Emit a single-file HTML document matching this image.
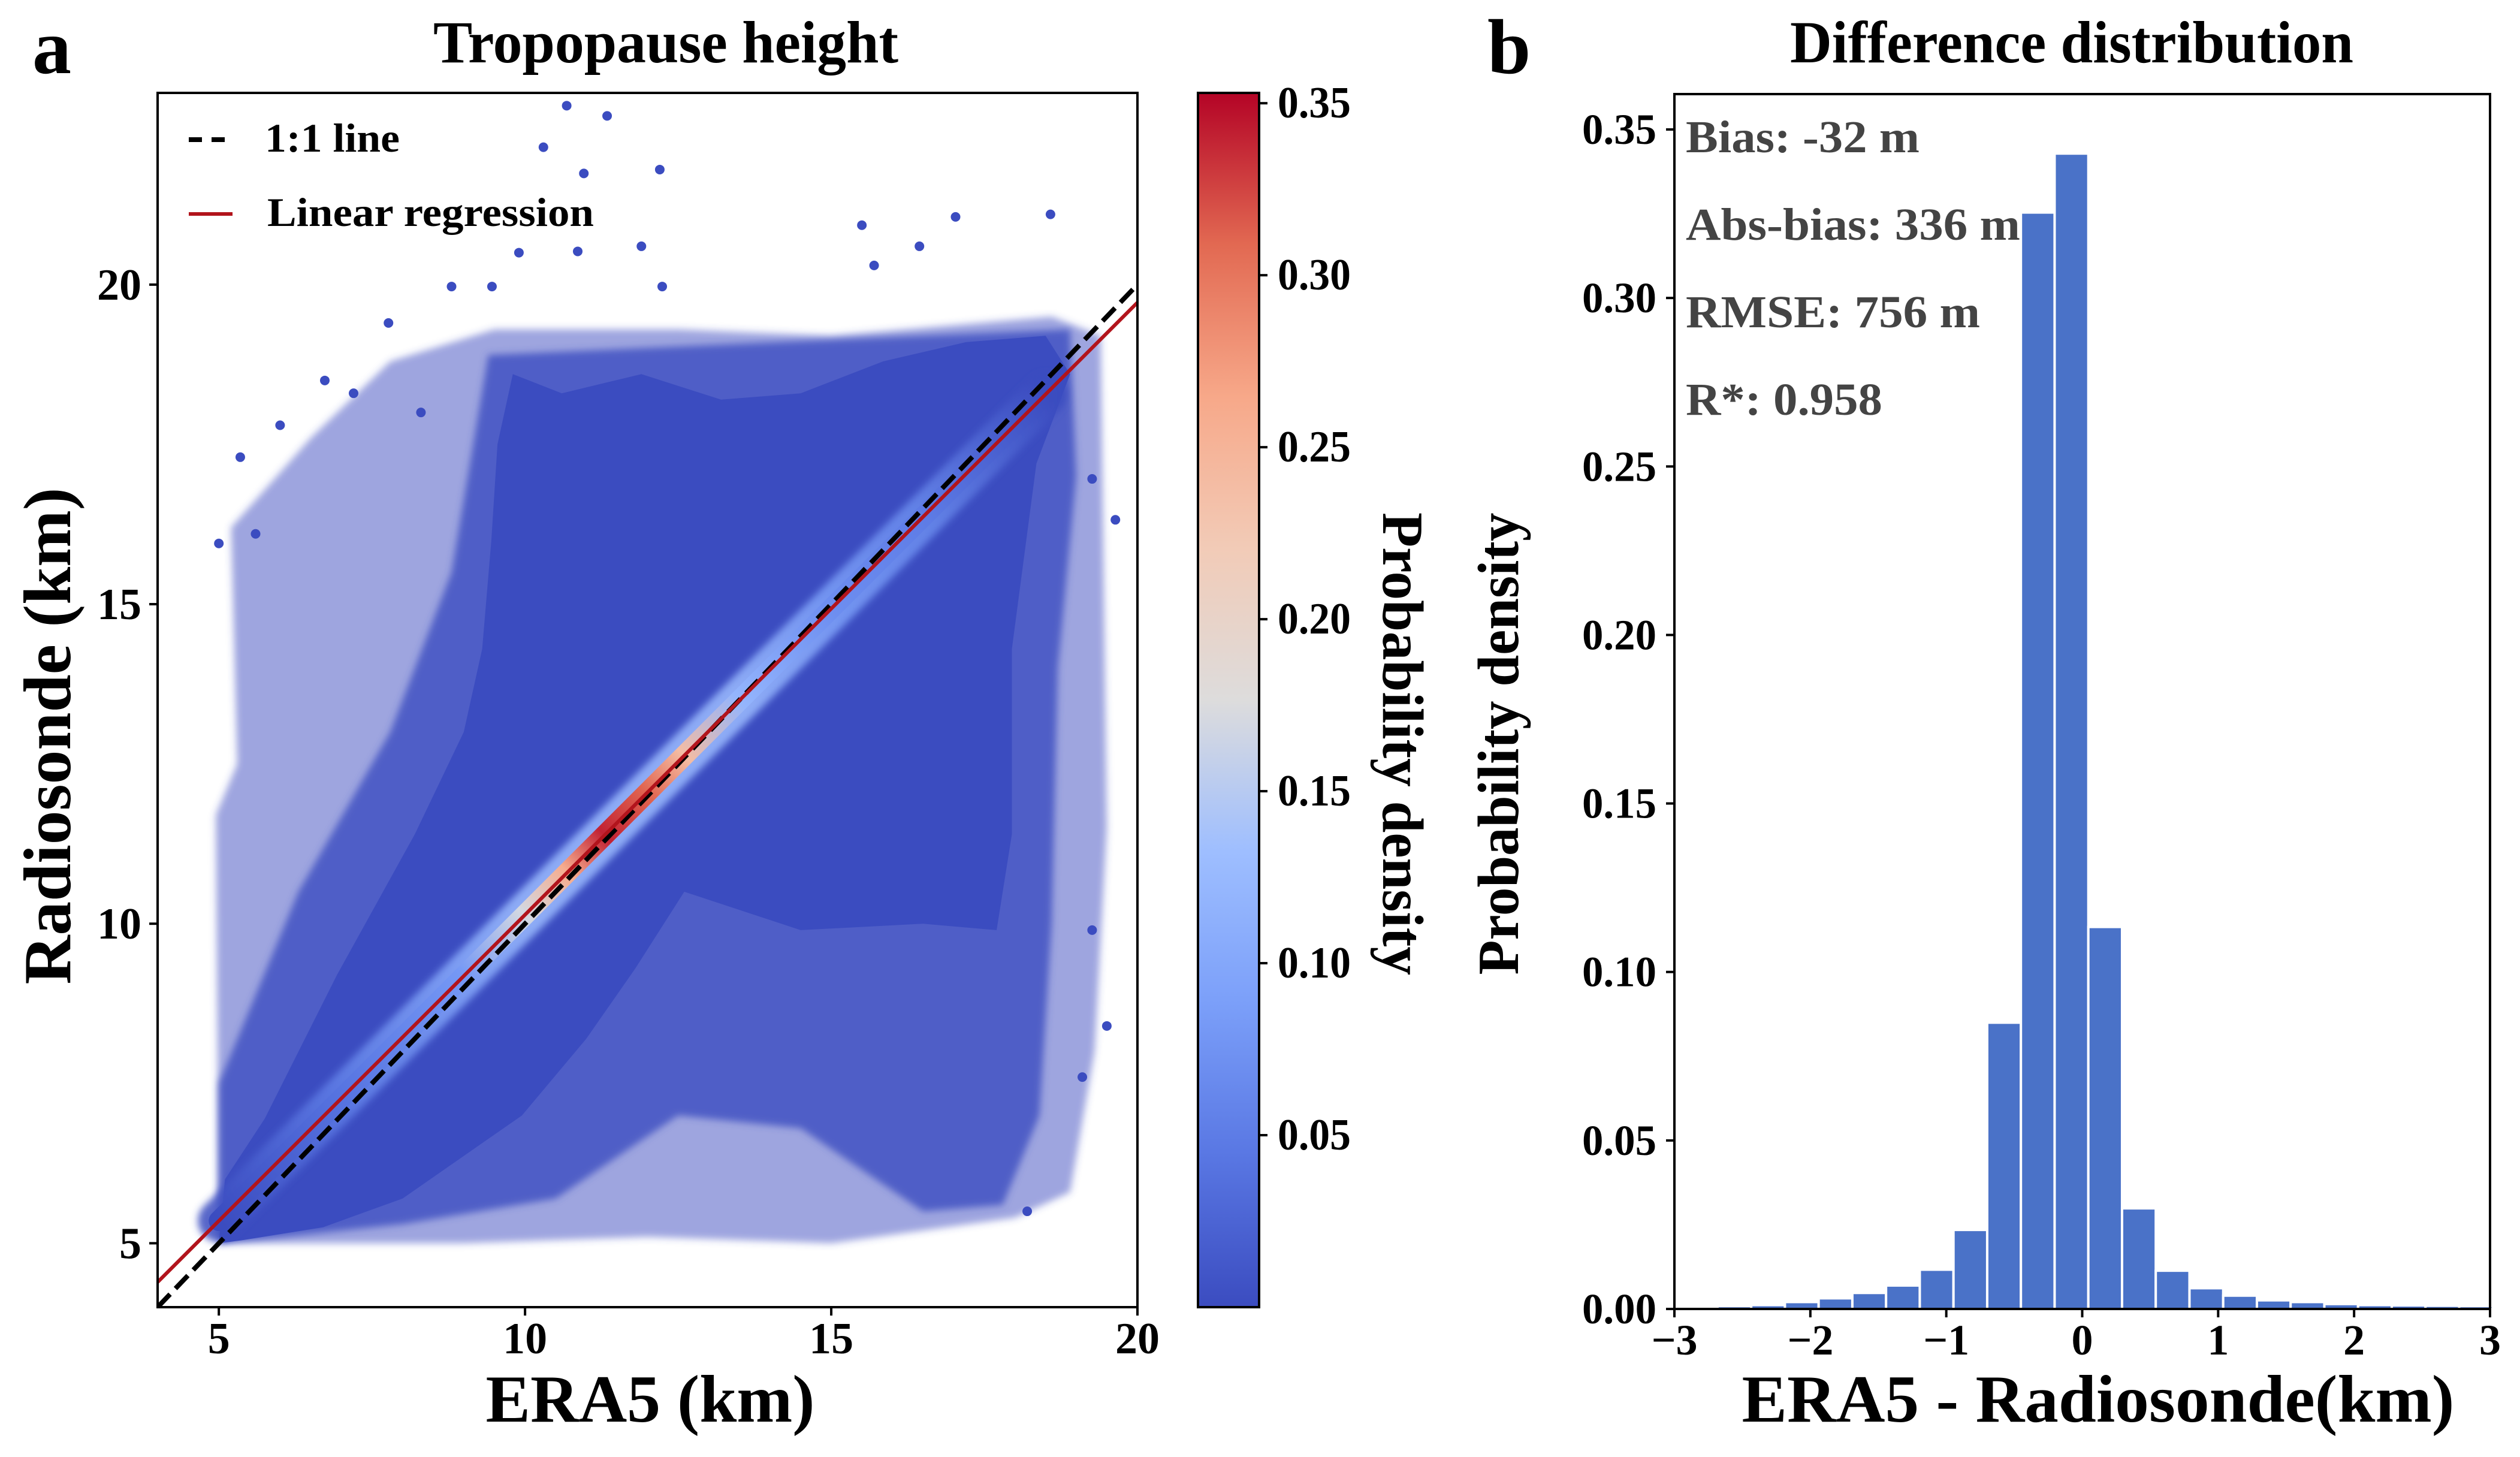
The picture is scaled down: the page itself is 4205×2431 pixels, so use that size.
<!DOCTYPE html>
<html><head><meta charset="utf-8"><style>
html,body{margin:0;padding:0;background:#fff}
svg{display:block}
text{font-family:"Liberation Serif","DejaVu Serif",serif;font-weight:bold}
</style></head><body>
<svg id="fig" xmlns="http://www.w3.org/2000/svg" width="4205" height="2431" viewBox="0 0 4205 2431">
<defs>
<linearGradient id="cmap" x1="0" y1="1" x2="0" y2="0">
<stop offset="0" stop-color="#3b4cc0"/><stop offset="0.125" stop-color="#5977e3"/><stop offset="0.25" stop-color="#7b9ff9"/><stop offset="0.375" stop-color="#9ebeff"/><stop offset="0.5" stop-color="#dddcdc"/><stop offset="0.625" stop-color="#f2cbb7"/><stop offset="0.75" stop-color="#f7a889"/><stop offset="0.875" stop-color="#e26952"/><stop offset="1" stop-color="#b40426"/>
</linearGradient>
<clipPath id="clipA"><rect x="263" y="155" width="1635" height="2026"/></clipPath>
<filter id="soft" x="-10%" y="-10%" width="120%" height="120%"><feGaussianBlur stdDeviation="6"/></filter>
</defs>
<g id="panelA"></g>
<g id="panelB"></g>
</svg>
<script>
// ---------- Panel a data ----------
const xTicksA = [5, 10, 15, 20];
const yTicksA = [5, 10, 15, 20];
const cbTicks = [0.05, 0.10, 0.15, 0.20, 0.25, 0.30, 0.35];
const cbTickLabels = ["0.05", "0.10", "0.15", "0.20", "0.25", "0.30", "0.35"];
const regSlope = 0.958;
const regIntercept = 0.56;
const outlierX = [10.68, 11.34, 10.3, 10.96, 12.2, 15.5, 17.03, 18.58, 16.44, 11.9, 9.9, 10.86, 8.8, 9.46, 12.24, 15.7, 7.77, 19.26, 19.64, 6.73, 5.35, 5.0, 19.26, 6.0, 7.2, 8.3, 19.5, 19.1, 5.6, 18.2];
const outlierY = [22.8, 22.64, 22.15, 21.74, 21.8, 20.93, 21.06, 21.1, 20.6, 20.6, 20.5, 20.52, 19.97, 19.97, 19.97, 20.3, 19.4, 16.96, 16.32, 18.5, 17.3, 15.95, 9.9, 17.8, 18.3, 18.0, 8.4, 7.6, 16.1, 5.5];
const outerX = [5, 4.95, 5.3, 5.2, 6.5, 7.8, 9.5, 12.5, 15, 18.6, 19.4, 19.5, 19.3, 18.9, 18, 15, 12, 9, 6];
const outerY = [5, 11.7, 12.5, 16.2, 17.6, 18.8, 19.3, 19.3, 19.2, 19.5, 19.2, 11.5, 8, 5.8, 5.4, 5.0, 5.1, 5.0, 5.0];
const midX = [5, 5, 6.3, 7.8, 8.8, 9.4, 18.9, 19.0, 18.7, 18.6, 18.4, 17.8, 16.5, 14.5, 12.5, 10.5, 8, 6];
const midY = [5, 7.5, 10.5, 13, 15.5, 18.9, 19.3, 17, 14, 10, 7, 5.6, 5.5, 6.8, 7.0, 5.7, 5.3, 5.1];
const denseX = [5, 5.1, 5.75, 6.93, 8.2, 9.0, 9.3, 9.45, 9.55, 9.8, 10.6, 11.9, 13.2, 14.5, 15.85, 17.2, 18.5, 18.9, 18.35, 17.95, 17.95, 17.7, 16.5, 14.5, 12.6, 11.8, 11.0, 9.95, 8.0, 6.7, 5.4];
const denseY = [5, 6, 6.95, 9.2, 11.4, 13.0, 14.3, 16, 17.5, 18.6, 18.3, 18.6, 18.2, 18.3, 18.8, 19.1, 19.2, 18.6, 17.2, 14.3, 11.4, 9.9, 10.0, 9.9, 10.5, 9.3, 8.2, 7.0, 5.7, 5.25, 5.05];
// density along the ridge (for colouring the band)
const ridgeX = [5, 7, 9, 10, 10.7, 11.3, 12.0, 12.6, 13.5, 15, 16.5, 18.5];
const ridgeD = [0.0, 0.04, 0.08, 0.17, 0.26, 0.34, 0.31, 0.24, 0.12, 0.07, 0.05, 0.0];

// ---------- Panel b data ----------
const binStart = -2.683;
const binWidth = 0.248;
const histValues = [0.0005, 0.0008, 0.0017, 0.0028, 0.0044, 0.0066, 0.0113, 0.0231, 0.0846, 0.325, 0.3425, 0.113, 0.0295, 0.011, 0.0058, 0.0036, 0.0022, 0.0017, 0.0011, 0.0008, 0.0007, 0.0006, 0.0005];
const xTicksB = [-3, -2, -1, 0, 1, 2, 3];
const xTickLabelsB = ["\u22123", "\u22122", "\u22121", "0", "1", "2", "3"];
const yTicksB = [0, 0.05, 0.10, 0.15, 0.20, 0.25, 0.30, 0.35];
const yTickLabelsB = ["0.00", "0.05", "0.10", "0.15", "0.20", "0.25", "0.30", "0.35"];
const statLines = ["Bias: -32 m", "Abs-bias: 336 m", "RMSE: 756 m", "R*: 0.958"];

const NS = "http://www.w3.org/2000/svg";
function mk(tag, attrs, parent) {
  const e = document.createElementNS(NS, tag);
  for (const k in attrs) e.setAttribute(k, attrs[k]);
  parent.appendChild(e);
  return e;
}
function txt(str, attrs, parent) { const t = mk("text", attrs, parent); t.textContent = str; return t; }

const A = {x0: 263, x1: 1898, y0: 2181, y1: 155, xmin: 4, xmax: 20, ymin: 4, ymax: 23};
const sxA = v => A.x0 + (v - A.xmin) / (A.xmax - A.xmin) * (A.x1 - A.x0);
const syA = v => A.y0 - (v - A.ymin) / (A.ymax - A.ymin) * (A.y0 - A.y1);
const CB = {x0: 1999, x1: 2101, y0: 2181, y1: 155, vmin: 0, vmax: 0.353};
const syCB = v => CB.y0 - (v - CB.vmin) / (CB.vmax - CB.vmin) * (CB.y0 - CB.y1);
const B = {x0: 2794, x1: 4155, y0: 2184, y1: 157, xmin: -3, xmax: 3, ymin: 0, ymax: 0.3605};
const sxB = v => B.x0 + (v - B.xmin) / (B.xmax - B.xmin) * (B.x1 - B.x0);
const syB = v => B.y0 - (v - B.ymin) / (B.ymax - B.ymin) * (B.y0 - B.y1);

const stops = [[0,[59,76,192]],[0.125,[89,119,227]],[0.25,[123,159,249]],[0.375,[158,190,255]],[0.5,[221,220,220]],[0.625,[242,203,183]],[0.75,[247,168,137]],[0.875,[226,105,82]],[1,[180,4,38]]];
function cmap(v) {
  let t = Math.max(0, Math.min(1, (v - CB.vmin) / (CB.vmax - CB.vmin)));
  for (let i = 1; i < stops.length; i++) {
    if (t <= stops[i][0]) {
      const a = stops[i-1], b = stops[i], f = (t - a[0]) / (b[0] - a[0]);
      const c = a[1].map((c0, j) => Math.round(c0 + (b[1][j] - c0) * f));
      return "rgb(" + c.join(",") + ")";
    }
  }
  return "rgb(180,4,38)";
}

const pa = document.getElementById("panelA");
const pb = document.getElementById("panelB");

// ---- Panel a ----
const plotA = mk("g", {"clip-path": "url(#clipA)"}, pa);


function poly(xs, ys, fill, op, name, blur) {
  const pts = xs.map((x, i) => sxA(x).toFixed(1) + "," + syA(ys[i]).toFixed(1)).join(" ");
  const at = {points: pts, fill: fill, "fill-opacity": op, stroke: "none"};
  if (blur) at.filter = "url(#soft)";
  const p = mk("polygon", at, plotA);
  
  
}
poly(outerX, outerY, "#3b4cc0", 0.5, "sparse-scatter-region", true);
poly(midX, midY, "#3b4cc0", 0.8, "medium-scatter-region", true);
poly(denseX, denseY, "#3b4cc0", 1, "dense-scatter-region", false);
const defs = document.querySelector("defs");
const gx1 = sxA(ridgeX[0]), gx2 = sxA(ridgeX[ridgeX.length - 1]);
const rg = mk("linearGradient", {id: "ridge", gradientUnits: "userSpaceOnUse", x1: gx1, y1: syA(regSlope*ridgeX[0]+regIntercept), x2: gx2, y2: syA(regSlope*ridgeX[ridgeX.length-1]+regIntercept)}, defs);
const rgHalo = mk("linearGradient", {id: "ridgeHalo", gradientUnits: "userSpaceOnUse", x1: gx1, y1: syA(regSlope*ridgeX[0]+regIntercept), x2: gx2, y2: syA(regSlope*ridgeX[ridgeX.length-1]+regIntercept)}, defs);
ridgeX.forEach((x, i) => {
  const off = (x - ridgeX[0]) / (ridgeX[ridgeX.length-1] - ridgeX[0]);
  mk("stop", {offset: off, "stop-color": cmap(ridgeD[i])}, rg);
  mk("stop", {offset: off, "stop-color": cmap(Math.min(ridgeD[i] * 1.3, 0.13))}, rgHalo);
});
const rx1 = ridgeX[0], rx2 = ridgeX[ridgeX.length - 1];
const halo = mk("line", {x1: sxA(rx1), y1: syA(regSlope*rx1+regIntercept), x2: sxA(rx2), y2: syA(regSlope*rx2+regIntercept), stroke: "url(#ridgeHalo)", "stroke-width": 70, "stroke-linecap": "round", "stroke-opacity": 0.85, filter: "url(#soft)"}, plotA);


const core = mk("line", {x1: sxA(rx1), y1: syA(regSlope*rx1+regIntercept), x2: sxA(rx2), y2: syA(regSlope*rx2+regIntercept), stroke: "url(#ridge)", "stroke-width": 34, "stroke-linecap": "round"}, plotA);


outlierX.forEach((x, i) => {
  const c = mk("circle", {cx: sxA(x), cy: syA(outlierY[i]), r: 8, fill: "#3b4cc0"}, plotA);
  
  
});
const one = mk("line", {x1: sxA(A.xmin), y1: syA(A.xmin), x2: sxA(A.xmax), y2: syA(A.xmax), stroke: "#000", "stroke-width": 8, "stroke-dasharray": "30 13"}, plotA);


const reg = mk("line", {x1: sxA(A.xmin), y1: syA(regSlope*A.xmin+regIntercept), x2: sxA(A.xmax), y2: syA(regSlope*A.xmax+regIntercept), stroke: "#b2141c", "stroke-width": 6}, plotA);


const fa = mk("rect", {x: A.x0, y: A.y1, width: A.x1 - A.x0, height: A.y0 - A.y1, fill: "none", stroke: "#000", "stroke-width": 4}, pa);


xTicksA.forEach(v => {
  const x = sxA(v);
  const t = mk("line", {x1: x, y1: A.y0, x2: x, y2: A.y0 + 14, stroke: "#000", "stroke-width": 4}, pa);
  
  
  const l = txt(String(v), {x: x, y: 2258, "font-size": 74, "text-anchor": "middle"}, pa);
  
  
});
yTicksA.forEach(v => {
  const y = syA(v);
  const t = mk("line", {x1: A.x0 - 14, y1: y, x2: A.x0, y2: y, stroke: "#000", "stroke-width": 4}, pa);
  
  
  const l = txt(String(v), {x: 236, y: y + 25, "font-size": 74, "text-anchor": "end"}, pa);
  
  
});
const cb = mk("rect", {x: CB.x0, y: CB.y1, width: CB.x1 - CB.x0, height: CB.y0 - CB.y1, fill: "url(#cmap)", stroke: "#000", "stroke-width": 4}, pa);


cbTicks.forEach((v, i) => {
  const y = syCB(v);
  const t = mk("line", {x1: CB.x1, y1: y, x2: CB.x1 + 14, y2: y, stroke: "#000", "stroke-width": 4}, pa);
  
  
  const l = txt(cbTickLabels[i], {x: 2132, y: y + 24, "font-size": 74, textLength: 122, lengthAdjust: "spacingAndGlyphs"}, pa);
  
  
});

// ---- Panel b ----
histValues.forEach((v, i) => {
  const xl = binStart + i * binWidth;
  const r = mk("rect", {x: sxB(xl), y: syB(v) - 2, width: sxB(xl + binWidth) - sxB(xl), height: syB(0) - syB(v) + 2, fill: "#4a72c8", stroke: "#fff", "stroke-width": 4}, pb);
  
  
});
const fb = mk("rect", {x: B.x0, y: B.y1, width: B.x1 - B.x0, height: B.y0 - B.y1, fill: "none", stroke: "#000", "stroke-width": 4}, pb);


xTicksB.forEach((v, i) => {
  const x = sxB(v);
  const t = mk("line", {x1: x, y1: B.y0, x2: x, y2: B.y0 + 14, stroke: "#000", "stroke-width": 4}, pb);
  
  
  const l = txt(xTickLabelsB[i], {x: x, y: 2260, "font-size": 72, "text-anchor": "middle"}, pb);
  
  
});
yTicksB.forEach((v, i) => {
  const y = syB(v);
  const t = mk("line", {x1: B.x0 - 14, y1: y, x2: B.x0, y2: y, stroke: "#000", "stroke-width": 4}, pb);
  
  
  const l = txt(yTickLabelsB[i], {x: 2764, y: y + 24, "font-size": 72, "text-anchor": "end", textLength: 124, lengthAdjust: "spacingAndGlyphs"}, pb);
  
  
});
const statW = [390, 558, 491, 328];
statLines.forEach((s, i) => {
  const l = txt(s, {x: 2813, y: 254 + i * 146, "font-size": 76, fill: "#444", textLength: statW[i], lengthAdjust: "spacingAndGlyphs"}, pb);
  
  
});
</script>
<svg x="0" y="0" width="4205" height="2431" style="position:absolute;left:0;top:0" xmlns="http://www.w3.org/2000/svg" viewBox="0 0 4205 2431">
<text x="54" y="122" font-size="130">a</text>
<text x="1111" y="104" font-size="100" text-anchor="middle" textLength="776" lengthAdjust="spacingAndGlyphs">Tropopause height</text>
<text transform="translate(117,1228) rotate(-90)" x="0" y="0" font-size="112" text-anchor="middle" textLength="829" lengthAdjust="spacingAndGlyphs">Radiosonde (km)</text>
<text x="1085" y="2372" font-size="112" text-anchor="middle" textLength="549" lengthAdjust="spacingAndGlyphs">ERA5 (km)</text>
<line x1="315" y1="233" x2="382" y2="233" stroke="#000" stroke-width="8" stroke-dasharray="22 16"/>
<text x="442" y="253" font-size="68" textLength="225" lengthAdjust="spacingAndGlyphs">1:1 line</text>
<line x1="315" y1="357" x2="388" y2="357" stroke="#b2141c" stroke-width="6"/>
<text x="446" y="377" font-size="68" textLength="545" lengthAdjust="spacingAndGlyphs">Linear regression</text>
<text transform="translate(2308,1241) rotate(90)" x="0" y="0" font-size="98" text-anchor="middle" textLength="772" lengthAdjust="spacingAndGlyphs">Probability density</text>
<text x="2482" y="122" font-size="130">b</text>
<text x="3457" y="104" font-size="100" text-anchor="middle" textLength="940" lengthAdjust="spacingAndGlyphs">Difference distribution</text>
<text transform="translate(2533,1241) rotate(-90)" x="0" y="0" font-size="98" text-anchor="middle" textLength="771" lengthAdjust="spacingAndGlyphs">Probability density</text>
<text x="3501" y="2372" font-size="112" text-anchor="middle" textLength="1189" lengthAdjust="spacingAndGlyphs">ERA5 - Radiosonde(km)</text>
</svg>
</body></html>
